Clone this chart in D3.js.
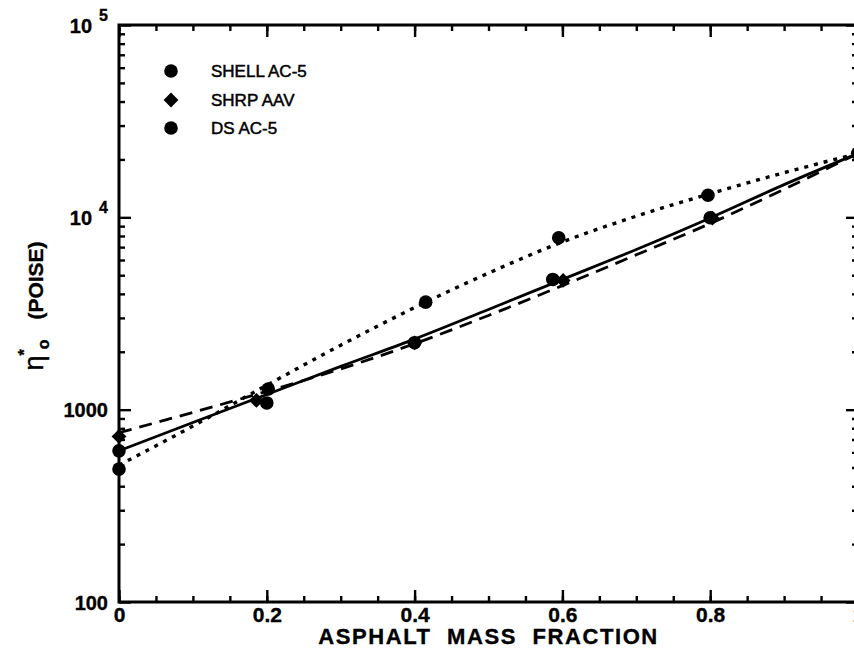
<!DOCTYPE html>
<html>
<head>
<meta charset="utf-8">
<script src="https://cdn.jsdelivr.net/npm/d3@7"></script>
<style>
  html, body { margin: 0; padding: 0; background: #fff; }
  svg { display: block; font-family: "Liberation Sans", Arial, Helvetica, sans-serif; }
  .lbl { fill: #000; stroke: #000; stroke-width: 0.35px; font-weight: bold; }
</style>
</head>
<body>
<svg id="chart" width="854" height="670"></svg>
<script>
// ---- data ----
const seriesNames = ["SHELL AC-5", "SHRP AAV", "DS AC-5"];

// measured points (asphalt mass fraction, zero-shear viscosity in poise)
const shellX = [0, 0.2, 0.4, 0.587, 0.8, 1];
const shellY = [611, 1084, 2230, 4755, 9950, 21500];
const shrpX = [0, 0.186, 0.4, 0.601, 0.803, 1];
const shrpY = [726, 1117, 2223, 4700, 9900, 21500];
const dsX = [0, 0.202, 0.415, 0.595, 0.797, 1];
const dsY = [491, 1280, 3622, 7835, 13030, 21500];

// fitted curves
const fitX = [0, 0.1, 0.2, 0.3, 0.4, 0.5, 0.6, 0.7, 0.8, 0.9, 1];
const shellFit = [611, 857, 1199, 1679, 2328, 3319, 4753, 6808, 9931, 14790, 21480];
const shrpFit = [759, 968, 1245, 1629, 2203, 3090, 4416, 6383, 9290, 14000, 21480];
const dsFit = [514, 822, 1340, 2163, 3396, 5129, 7447, 10140, 13270, 17060, 21480];

// axes
const xMajor = [0, 0.2, 0.4, 0.6, 0.8, 1];
const xMajorLabels = ["0", "0.2", "0.4", "0.6", "0.8", "1"];
const xMinor = d3.range(0, 1.0001, 0.05);
const yMajor = [100, 1000, 10000, 100000];
const yMajorLabels = [["100", ""], ["1000", ""], ["10", "4"], ["10", "5"]];
const xTitle = "ASPHALT  MASS  FRACTION";

// ---- layout ----
const L = 119, R = 858, T = 25, B = 602;
const svg = d3.select("#chart");

const x = d3.scaleLinear().domain([0, 1]).range([L, R]);
const y = d3.scaleLog().domain([100, 100000]).range([B, T]);

const yMinor = [];
for (let d = 100; d < 100000; d *= 10) for (let k = 2; k <= 9; k++) yMinor.push(d * k);

const axisStyle = g => {
  g.selectAll(".domain").remove();
  g.selectAll(".tick line").attr("stroke", "#000").attr("stroke-width", 2.4);
};

// bottom
svg.append("g").attr("transform", `translate(0,${B})`)
  .call(d3.axisBottom(x).tickValues(xMinor).tickSize(-6).tickFormat(""))
  .call(axisStyle);
svg.append("g").attr("transform", `translate(0,${B})`)
  .call(d3.axisBottom(x).tickValues(xMajor).tickSize(-12).tickPadding(5)
    .tickFormat((d, i) => xMajorLabels[i]))
  .call(axisStyle)
  .call(g => g.selectAll("text").attr("class", "lbl").style("font-size", "21px"));
// top
svg.append("g").attr("transform", `translate(0,${T})`)
  .call(d3.axisTop(x).tickValues(xMinor).tickSize(-6).tickFormat(""))
  .call(axisStyle);
svg.append("g").attr("transform", `translate(0,${T})`)
  .call(d3.axisTop(x).tickValues(xMajor).tickSize(-12).tickFormat(""))
  .call(axisStyle);
// left
svg.append("g").attr("transform", `translate(${L},0)`)
  .call(d3.axisLeft(y).tickValues(yMinor).tickSize(-6).tickFormat(""))
  .call(axisStyle);
const yAxisG = svg.append("g").attr("transform", `translate(${L},0)`)
  .call(d3.axisLeft(y).tickValues(yMajor).tickSize(-12).tickPadding(11).tickFormat(""))
  .call(axisStyle);
yAxisG.selectAll(".tick").each(function (d, i) {
  const t = d3.select(this).select("text")
    .attr("class", "lbl").attr("dy", "0.36em").style("font-size", "20px");
  const [base, exp] = yMajorLabels[i];
  t.text(null);
  t.append("tspan").text(base);
  if (exp) t.append("tspan").attr("dx", 7).attr("dy", -12).style("font-size", "16px").text(exp);
});
// right
svg.append("g").attr("transform", `translate(${R},0)`)
  .call(d3.axisRight(y).tickValues(yMinor).tickSize(-6).tickFormat(""))
  .call(axisStyle);
svg.append("g").attr("transform", `translate(${R},0)`)
  .call(d3.axisRight(y).tickValues(yMajor).tickSize(-12).tickFormat(""))
  .call(axisStyle);

// frame
svg.append("rect").attr("x", L).attr("y", T).attr("width", R - L).attr("height", B - T)
  .attr("fill", "none").attr("stroke", "#000").attr("stroke-width", 3);

// axis titles
svg.append("text").attr("class", "lbl")
  .attr("x", (L + R) / 2).attr("y", 644)
  .attr("text-anchor", "middle")
  .style("font-size", "22px")
  .style("letter-spacing", "1.6px").style("white-space", "pre")
  .text(xTitle);

const yl = svg.append("text").attr("class", "lbl")
  .attr("transform", "translate(43,306) rotate(-90)")
  .attr("text-anchor", "middle")
  .style("font-size", "21px");
yl.append("tspan").style("font-size", "27px").style("font-weight", "normal").text("η");
yl.append("tspan").attr("dy", -13).attr("dx", 0).style("font-size", "16px").text("*");
yl.append("tspan").attr("dy", 19).attr("dx", 0).style("font-size", "16px").text("o");
yl.append("tspan").attr("dy", -6).attr("dx", 20).text("(POISE)");

// ---- fitted curves ----
const plot = svg.append("g");
const lineGen = vals => d3.line()
  .x((d, i) => x(fitX[i])).y(d => y(d))
  .curve(d3.curveMonotoneX)(vals);

plot.append("path").attr("d", lineGen(shellFit))
  .attr("fill", "none").attr("stroke", "#000").attr("stroke-width", 2.8);
plot.append("path").attr("d", lineGen(shrpFit))
  .attr("fill", "none").attr("stroke", "#000").attr("stroke-width", 2.8)
  .attr("stroke-dasharray", "13,8");
plot.append("path").attr("d", lineGen(dsFit))
  .attr("fill", "none").attr("stroke", "#000").attr("stroke-width", 3.4)
  .attr("stroke-dasharray", "4,6");

// ---- markers ----
const diamond = d3.symbol().type(d3.symbolSquare).size(110);
const drawCircles = (xs, ys) => plot.append("g").selectAll("circle")
  .data(xs.map((v, i) => [v, ys[i]])).join("circle")
  .attr("cx", d => x(d[0])).attr("cy", d => y(d[1])).attr("r", 6.8).attr("fill", "#000");
const drawDiamonds = (xs, ys) => plot.append("g").selectAll("path")
  .data(xs.map((v, i) => [v, ys[i]])).join("path")
  .attr("d", diamond)
  .attr("transform", d => `translate(${x(d[0])},${y(d[1])}) rotate(45)`)
  .attr("fill", "#000");

drawDiamonds(shrpX, shrpY);
drawCircles(shellX, shellY);
drawCircles(dsX, dsY);

// ---- legend ----
const legend = svg.append("g");
const legendY = [71, 100, 128];
const legendShape = ["circle", "diamond", "circle"];
seriesNames.forEach((name, i) => {
  if (legendShape[i] === "circle") {
    legend.append("circle").attr("cx", 171).attr("cy", legendY[i]).attr("r", 6.8).attr("fill", "#000");
  } else {
    legend.append("path").attr("d", diamond)
      .attr("transform", `translate(171,${legendY[i]}) rotate(45)`).attr("fill", "#000");
  }
  legend.append("text").attr("x", 211).attr("y", legendY[i]).attr("dy", "0.36em")
    .attr("fill", "#000").style("font-size", "17px").style("font-weight", "normal")
    .style("stroke", "#000").style("stroke-width", "0.5px")
    .text(name);
});
</script>
</body>
</html>
